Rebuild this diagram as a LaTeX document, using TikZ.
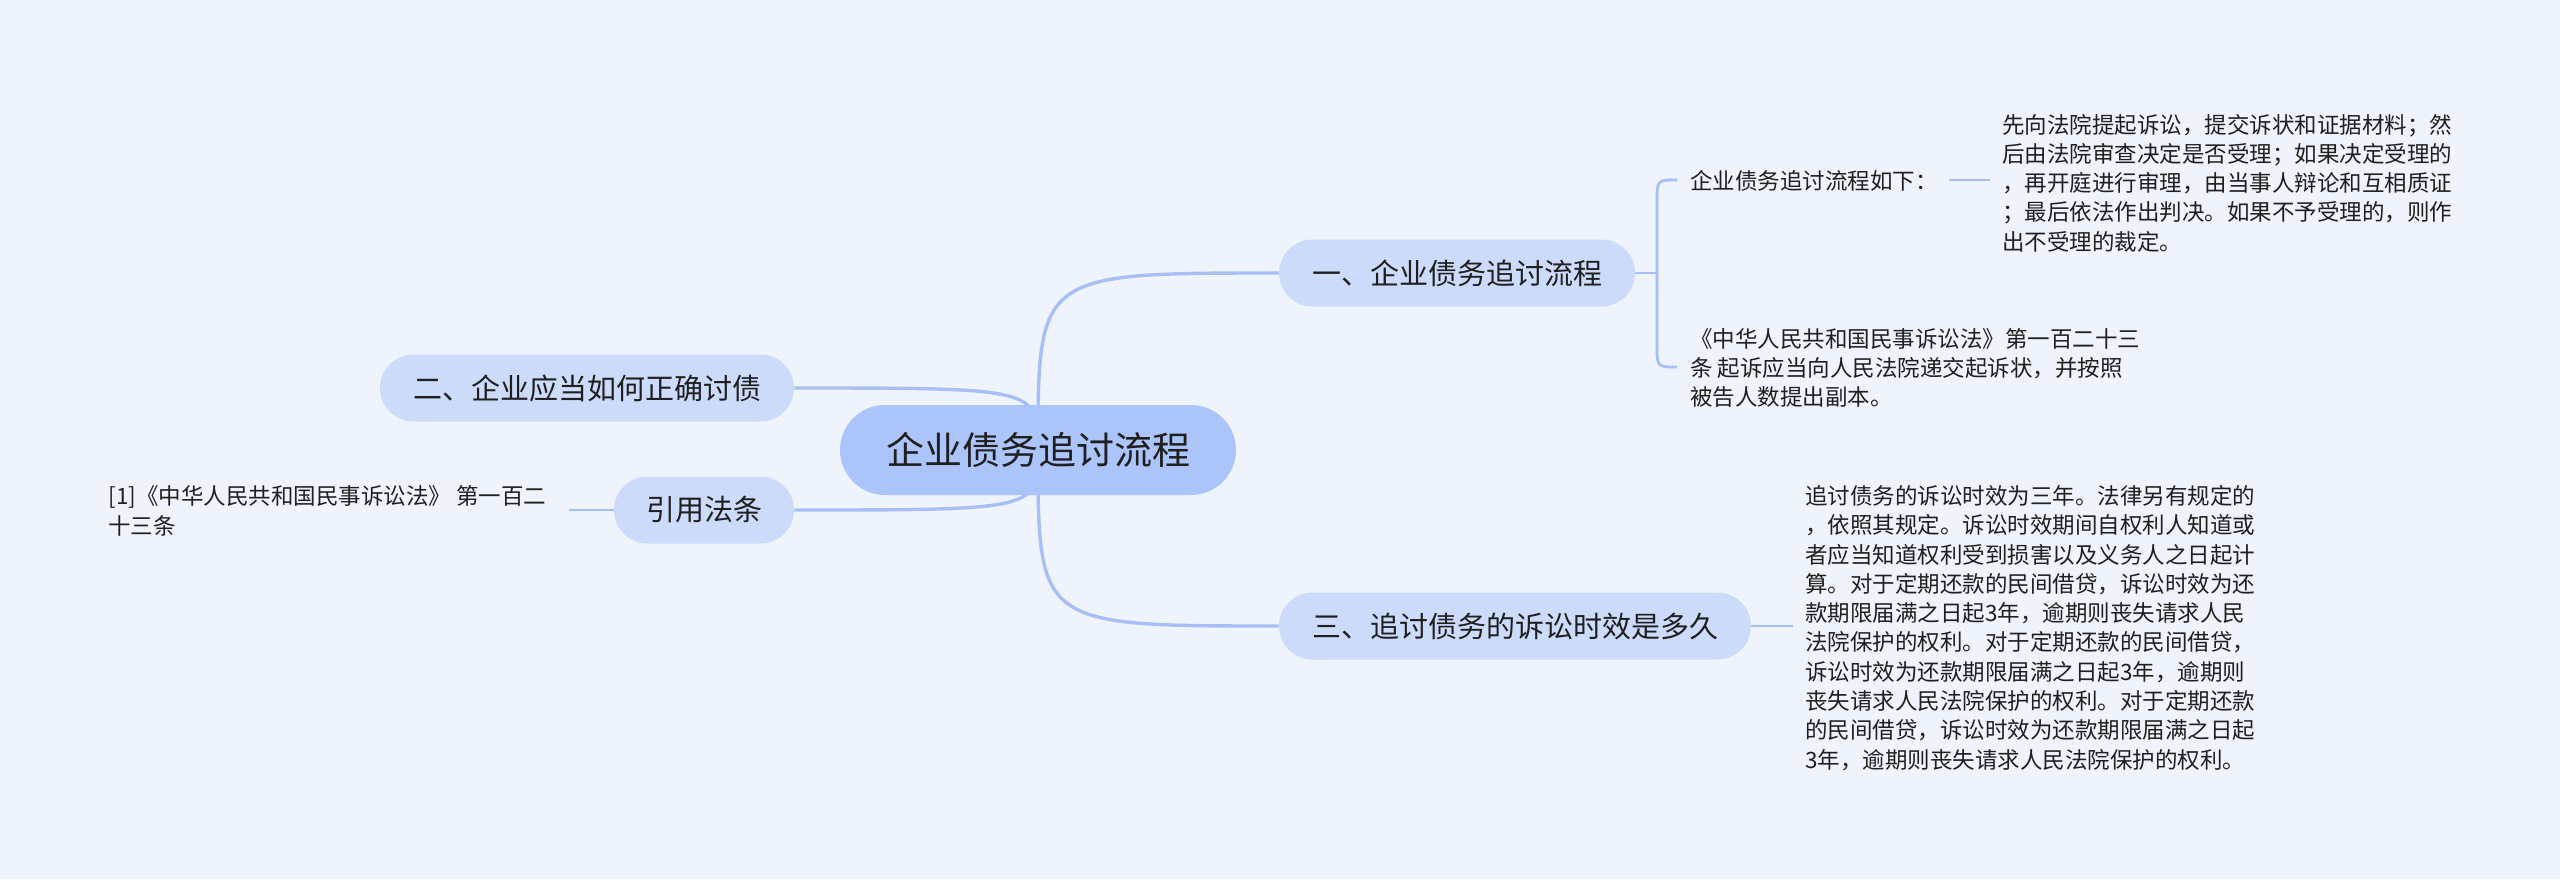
\documentclass[tikz,border=0pt]{standalone}
\usepackage{fontspec}
\setmainfont{Noto Sans CJK SC}
\usetikzlibrary{calc}
\pgfdeclarelayer{bglayer}
\pgfdeclarelayer{edges}
\pgfsetlayers{bglayer,edges,main}
\definecolor{bgc}{HTML}{EEF3FC}
\definecolor{rootc}{HTML}{ABC4FA}
\definecolor{brc}{HTML}{CCDBFA}
\definecolor{linec}{HTML}{A7BFF4}
\definecolor{txt}{HTML}{1F1F1F}
\begin{document}
\begin{tikzpicture}[x=0.5pt,y=-0.5pt,
  rootbox/.style={fill=rootc, rounded corners=22.5pt, minimum height=45pt, minimum width=198pt, inner sep=0pt, text=txt, font=\fontsize{19pt}{23pt}\selectfont},
  branchbox/.style={fill=brc, rounded corners=16.75pt, minimum height=33.5pt, inner sep=0pt, text=txt, font=\fontsize{14.5pt}{18pt}\selectfont},
  leaf/.style={anchor=west, align=left, inner sep=0pt, text=txt, font=\fontsize{11.25pt}{14.65pt}\selectfont},
  mainconn/.style={draw=linec, line width=1.7pt},
  subconn/.style={draw=linec, line width=1.4pt}
]
\useasboundingbox (0,0) rectangle (2560,879);
\begin{pgfonlayer}{bglayer}
\fill[bgc] (0,0) rectangle (2560,879);
\end{pgfonlayer}

\node[rootbox] (root) at (1038,450) {企业债务追讨流程};
\node[branchbox, minimum width=178pt] (b1) at (1457,273) {一、企业债务追讨流程};
\node[branchbox, minimum width=207pt] (b2) at (587,388) {二、企业应当如何正确讨债};
\node[branchbox, minimum width=90pt] (b3) at (704,510) {引用法条};
\node[branchbox, minimum width=236pt] (b4) at (1515,626) {三、追讨债务的诉讼时效是多久};

\node[leaf] (t1a) at (1690,181) {企业债务追讨流程如下：};
\node[leaf] (t1b) at (2002,183) {先向法院提起诉讼，提交诉状和证据材料；然\\后由法院审查决定是否受理；如果决定受理的\\，再开庭进行审理，由当事人辩论和互相质证\\；最后依法作出判决。如果不予受理的，则作\\出不受理的裁定。};
\node[leaf] (t2) at (1690,368) {《中华人民共和国民事诉讼法》第一百二十三\\条 起诉应当向人民法院递交起诉状，并按照\\被告人数提出副本。};
\node[leaf] (t3) at (1805,628) {追讨债务的诉讼时效为三年。法律另有规定的\\，依照其规定。诉讼时效期间自权利人知道或\\者应当知道权利受到损害以及义务人之日起计\\算。对于定期还款的民间借贷，诉讼时效为还\\款期限届满之日起3年，逾期则丧失请求人民\\法院保护的权利。对于定期还款的民间借贷，\\诉讼时效为还款期限届满之日起3年，逾期则\\丧失请求人民法院保护的权利。对于定期还款\\的民间借贷，诉讼时效为还款期限届满之日起\\3年，逾期则丧失请求人民法院保护的权利。};
\node[leaf] (lt) at (108,511) {[1]《中华人民共和国民事诉讼法》 第一百二\\十三条};

\coordinate (bj) at (1657,273);
\coordinate (btop) at (1677,180);
\coordinate (bbot) at (1677,367);
\coordinate (c1) at (1949,180);
\coordinate (c2) at (1990,180);
\coordinate (c3) at (1793,626);
\coordinate (c4) at (569,510);

\begin{pgfonlayer}{edges}
\draw[mainconn] (root.center) .. controls (root.center |- b1.west) .. (b1.west);
\draw[mainconn] (root.center) .. controls (root.center |- b4.west) .. (b4.west);
\draw[mainconn] (root.center) .. controls (root.center |- b2.east) .. (b2.east);
\draw[mainconn] (root.center) .. controls (root.center |- b3.east) .. (b3.east);
\draw[subconn] (b1.east) -- (bj);
\draw[subconn] (btop) .. controls (1657,180) .. (1657,202) -- (1657,345) .. controls (1657,367) .. (bbot);
\draw[subconn] (c1) -- (c2);
\draw[subconn] (b4.east) -- (c3);
\draw[subconn] (b3.west) -- (c4);
\end{pgfonlayer}
\end{tikzpicture}
\end{document}
